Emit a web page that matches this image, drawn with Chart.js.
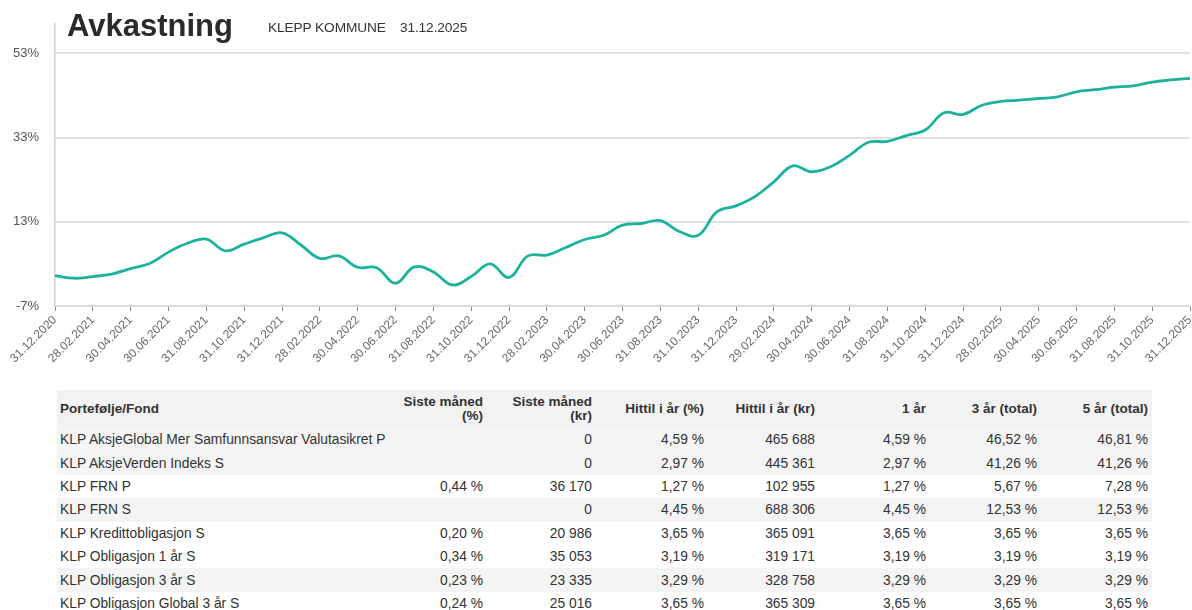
<!DOCTYPE html>
<html>
<head>
<meta charset="utf-8">
<script src="https://cdn.jsdelivr.net/npm/chart.js@4.4.1/dist/chart.umd.min.js"></script>
<style>
  body { margin: 0; background: #fff; font-family: "Liberation Sans", Arial, sans-serif; color: #333; }
  .page { position: relative; width: 1192px; height: 610px; overflow: hidden; }
  .chart-wrap { position: absolute; left: 0; top: 0; width: 1192px; height: 372px; }
  .title { position: absolute; left: 67px; top: 10px; font-size: 31px; line-height: 31px; font-weight: bold; color: #2a2a2a; }
  .subtitle { position: absolute; left: 268px; top: 21px; font-size: 13.7px; line-height: 14px; color: #333; letter-spacing: -0.1px; }
  .subtitle span { margin-left: 14px; }
  table { position: absolute; left: 57px; top: 390px; width: 1095px; border-collapse: collapse; table-layout: fixed; font-size: 13.8px; color: #333; }
  th, td { padding: 0 4px 0 3px; text-align: right; white-space: nowrap; }
  th { font-weight: bold; height: 38px; vertical-align: middle; background: #f2f2f2; line-height: 14px; font-size: 13.5px; }
  td { height: 23.4px; }
  th:first-child, td:first-child { text-align: left; }
  tr.shade td { background: #f4f4f4; }
</style>
</head>
<body>
<div class="page">
  <div class="chart-wrap"><canvas id="myChart"></canvas></div>
  <div class="title">Avkastning</div>
  <div class="subtitle">KLEPP KOMMUNE<span>31.12.2025</span></div>
  <table>
    <colgroup>
      <col style="width:343px"><col style="width:87px"><col style="width:109px"><col style="width:112px">
      <col style="width:111px"><col style="width:111px"><col style="width:111px"><col style="width:111px">
    </colgroup>
    <thead><tr class="head"></tr></thead>
    <tbody class="table-body"></tbody>
  </table>
</div>

<script>
const dates = [
  "31.12.2020",
  "31.01.2021", "28.02.2021", "31.03.2021", "30.04.2021", "31.05.2021", "30.06.2021",
  "31.07.2021", "31.08.2021", "30.09.2021", "31.10.2021", "30.11.2021", "31.12.2021",
  "31.01.2022", "28.02.2022", "31.03.2022", "30.04.2022", "31.05.2022", "30.06.2022",
  "31.07.2022", "31.08.2022", "30.09.2022", "31.10.2022", "30.11.2022", "31.12.2022",
  "31.01.2023", "28.02.2023", "31.03.2023", "30.04.2023", "31.05.2023", "30.06.2023",
  "31.07.2023", "31.08.2023", "30.09.2023", "31.10.2023", "30.11.2023", "31.12.2023",
  "31.01.2024", "29.02.2024", "31.03.2024", "30.04.2024", "31.05.2024", "30.06.2024",
  "31.07.2024", "31.08.2024", "30.09.2024", "31.10.2024", "30.11.2024", "31.12.2024",
  "31.01.2025", "28.02.2025", "31.03.2025", "30.04.2025", "31.05.2025", "30.06.2025",
  "31.07.2025", "31.08.2025", "30.09.2025", "31.10.2025", "30.11.2025", "31.12.2025"
];

// akkumulert avkastning i prosent, en verdi per måned
const returns = [
  0.2,
  -0.4, 0.0, 0.6, 1.9, 3.1, 5.8, 7.9, 8.9, 6.1, 7.7, 9.2, 10.4,
  7.5, 4.3, 4.9, 2.2, 2.1, -1.6, 2.3, 1.1, -2.0, 0.0, 3.0, -0.2,
  4.9, 5.1, 6.9, 8.8, 9.8, 12.2, 12.6, 13.3, 10.7, 9.8, 15.4, 16.8,
  19.0, 22.5, 26.3, 24.9, 26.1, 28.8, 31.9, 32.1, 33.5, 34.8, 38.9, 38.5,
  40.7, 41.6, 41.9, 42.3, 42.7, 43.9, 44.4, 45.0, 45.3, 46.2, 46.7, 47.1
];

const yTicks = [-7, 13, 33, 53];

const headers = ["Portefølje/Fond", "Siste måned<br>(%)", "Siste måned<br>(kr)", "Hittil i år (%)",
  "Hittil i år (kr)", "1 år", "3 år (total)", "5 år (total)"];

const funds = [
  "KLP AksjeGlobal Mer Samfunnsansvar Valutasikret P",
  "KLP AksjeVerden Indeks S",
  "KLP FRN P",
  "KLP FRN S",
  "KLP Kredittobligasjon S",
  "KLP Obligasjon 1 år S",
  "KLP Obligasjon 3 år S",
  "KLP Obligasjon Global 3 år S"
];
const lastMonthPct = ["", "", "0,44 %", "", "0,20 %", "0,34 %", "0,23 %", "0,24 %"];
const lastMonthKr = ["0", "0", "36 170", "0", "20 986", "35 053", "23 335", "25 016"];
const ytdPct = ["4,59 %", "2,97 %", "1,27 %", "4,45 %", "3,65 %", "3,19 %", "3,29 %", "3,65 %"];
const ytdKr = ["465 688", "445 361", "102 955", "688 306", "365 091", "319 171", "328 758", "365 309"];
const oneYear = ["4,59 %", "2,97 %", "1,27 %", "4,45 %", "3,65 %", "3,19 %", "3,29 %", "3,65 %"];
const threeYear = ["46,52 %", "41,26 %", "5,67 %", "12,53 %", "3,65 %", "3,19 %", "3,29 %", "3,65 %"];
const fiveYear = ["46,81 %", "41,26 %", "7,28 %", "12,53 %", "3,65 %", "3,19 %", "3,29 %", "3,65 %"];
const shaded = [true, true, false, true, false, false, true, false];

// Table
document.querySelector(".head").innerHTML = headers.map(h => `<th>${h}</th>`).join("");

const tableBody = document.querySelector(".table-body");
funds.forEach((fund, i) => {
  tableBody.innerHTML += `
    <tr class="${shaded[i] ? "shade" : ""}">
      <td>${fund}</td>
      <td>${lastMonthPct[i]}</td>
      <td>${lastMonthKr[i]}</td>
      <td>${ytdPct[i]}</td>
      <td>${ytdKr[i]}</td>
      <td>${oneYear[i]}</td>
      <td>${threeYear[i]}</td>
      <td>${fiveYear[i]}</td>
    </tr>`;
});

// Chart
const ctx = document.getElementById("myChart").getContext("2d");

new Chart(ctx, {
  type: "line",
  data: {
    labels: dates,
    datasets: [{
      data: returns,
      borderColor: "#1cb29c",
      borderWidth: 2.8,
      tension: 0.4,
      pointRadius: 0,
      fill: false,
    }],
  },
  options: {
    responsive: true,
    maintainAspectRatio: false,
    animation: false,
    layout: { padding: { top: 24, right: 2, left: 0, bottom: 0 } },
    plugins: {
      legend: { display: false },
      tooltip: { enabled: false },
    },
    scales: {
      x: {
        afterFit: (scale) => {
          scale.height = 66;
          scale.paddingRight = 0;
          scale.paddingLeft = 0;
        },
        grid: { drawOnChartArea: false, drawTicks: true, tickLength: 5, tickColor: "#888", tickWidth: 1 },
        border: { display: true, color: "#dcdcdc", width: 2 },
        ticks: {
          autoSkip: false,
          maxRotation: 45,
          minRotation: 45,
          padding: 2,
          color: "#6a6a6a",
          font: { family: "Liberation Sans", size: 12 },
          callback: function (value, index) {
            return index % 2 === 0 ? this.getLabelForValue(value) : null;
          },
        },
      },
      y: {
        min: -7,
        max: 60,
        afterFit: (scale) => { scale.width = 55; },
        afterBuildTicks: (scale) => { scale.ticks = yTicks.map(v => ({ value: v })); },
        grid: { color: "#e2e2e2", lineWidth: 2, drawTicks: false },
        border: { display: true, color: "#d0d0d0", width: 1.5 },
        ticks: {
          padding: 16,
          color: "#555",
          font: { family: "Liberation Sans", size: 13 },
          callback: (value) => value + "%",
        },
      },
    },
  },
});
</script>
</body>
</html>
